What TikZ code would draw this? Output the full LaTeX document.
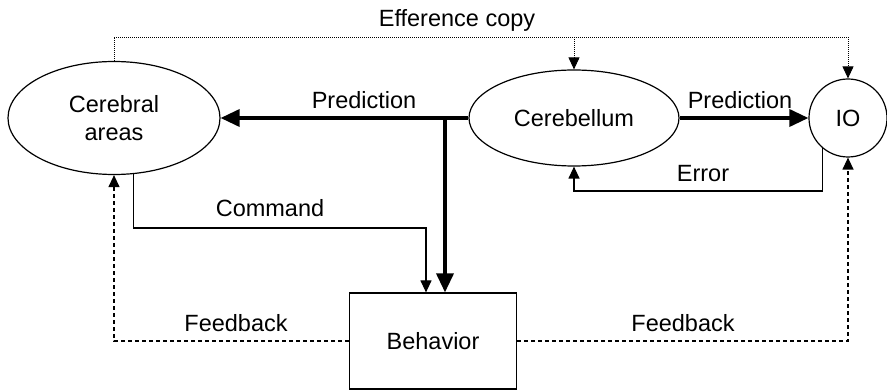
\documentclass[tikz,border=0pt]{standalone}
\usepackage{fontspec}
\setmainfont{Liberation Sans}
\usetikzlibrary{arrows.meta,shapes.geometric}

\begin{document}
\begin{tikzpicture}[x=1pt, y=-1pt, font=\fontsize{23.5}{28}\selectfont,
    area/.style={draw, ellipse, line width=1.2pt, inner sep=0pt},
    bigflow/.style={line width=3.5pt, -{Triangle[length=19pt,width=17pt]}},
    cmdflow/.style={line width=1.2pt, -{Triangle[length=12pt,width=11pt]}},
    copyflow/.style={line width=0.9pt, dash pattern=on 1pt off 1pt, -{Triangle[length=12pt,width=11pt]}},
    feedflow/.style={line width=1.2pt, dash pattern=on 4pt off 3pt, -{Triangle[length=12pt,width=11pt]}}]
    \useasboundingbox (0,0) rectangle (887,390);

    \node[area, minimum width=212pt, minimum height=113pt, align=center] (cortex) at (114,118) {Cerebral\\areas};
    \node[area, minimum width=210pt, minimum height=96pt] (cbl) at (574,118) {Cerebellum};
    \node[draw, circle, line width=1.2pt, minimum size=78pt, inner sep=0pt] (io) at (848,118) {IO};
    \node[draw, line width=1.2pt, minimum width=167pt, minimum height=96pt] (beh) at (433,341) {Behavior};

    \coordinate (split) at (445,118);
    \coordinate (copy) at (0,37);
    \coordinate (err) at (0,191);
    \coordinate (cmd) at (0,228);

    \draw[line width=3.5pt] (cbl.west) -- (split);
    \draw[bigflow] (split) -- (cortex.east);
    \draw[bigflow] (split) -- (split |- beh.north);
    \draw[bigflow] (cbl.east) -- (io.west);

    \draw[copyflow] (cortex.north) |- (copy -| io.north) -- (io.north);
    \draw[copyflow] (copy -| cbl.north) -- (cbl.north);
    \draw[cmdflow] (io.230) -- (io.230 |- err) -| (cbl.south);
    \draw[cmdflow] (cortex.289) -- (cortex.289 |- cmd) -| ([xshift=-7pt]beh.north);
    \draw[feedflow] (beh.west) -| (cortex.south);
    \draw[feedflow] (beh.east) -| (io.south);

    \node (copylbl) at (457,20) {Efference copy};
    \node (predL) at (364,100) {Prediction};
    \node (predR) at (740,100) {Prediction};
    \node (errlbl) at (703,174) {Error};
    \node (cmdlbl) at (270,208) {Command};
    \node (fbL) at (236,323) {Feedback};
    \node (fbR) at (683,323) {Feedback};
\end{tikzpicture}
\end{document}
